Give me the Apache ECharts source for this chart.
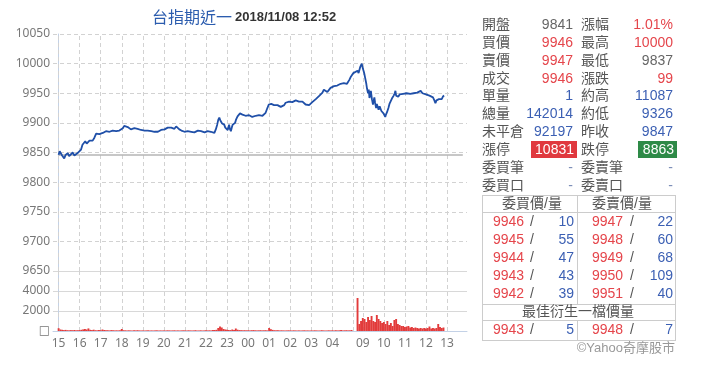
<!DOCTYPE html>
<html><head><meta charset="utf-8">
<script src="https://cdn.jsdelivr.net/npm/echarts@6/dist/echarts.min.js"></script>
<style>html,body{margin:0;padding:0;background:#fff}#c{width:720px;height:372px}</style>
</head><body><div id="c"></div>
<script>
// ---------- DATA ----------
const titleName = '台指期近一';
const titleTime = '2018/11/08 12:52';
const prevClose = 9847;

// Night session (15:00-05:00): minutes after 15:00 and price
const nightMinutes = [
  0,3,6,10,16,20,26,30,35,40,
  45,50,54,59,64,68,72,76,80,83,
  88,92,97,102,107,112,116,121,126,130,
  135,140,145,150,154,159,164,168,173,178,
  183,187,192,197,202,206,211,216,220,225,
  230,235,240,245,249,254,259,264,268,273,
  278,283,287,292,297,302,306,311,316,321,
  326,330,335,340,344,350,355,359,364,368,
  373,378,382,387,392,397,402,406,411,416,
  420,425,430,434,439,444,448,452,455,458,
  461,463,466,469,472,475,477,480,482,484,
  486,488,491,494,496,499,503,506,510,514,
  517,520,524,529,533,538,543,548,552,557,
  562,567,571,576,581,585,590,595,599,603,
  606,609,614,619,624,628,633,638,643,647,
  652,657,661,666,671,676,680,685,690,695,
  699,704,709,714,718,723,728,733,737,742,
  747,752,756,761,766,770,775,780,785,790,
  794,799,804,808,813,818,822,826,829,833,
  836,840];
const nightPrices = [
  9846,9852,9849,9845,9840,9846,9849,9844,9846,9850,
  9845,9848,9849,9847,9855,9863,9866,9869,9865,9867,
  9870,9872,9870,9875,9882,9879,9881,9879,9883,9881,
  9886,9883,9885,9883,9887,9885,9886,9884,9887,9889,
  9891,9895,9892,9893,9890,9889,9892,9891,9888,9890,
  9888,9888,9886,9887,9885,9887,9884,9886,9887,9885,
  9883,9885,9886,9888,9886,9889,9890,9892,9891,9892,
  9893,9890,9894,9891,9889,9887,9886,9885,9887,9886,
  9887,9885,9886,9884,9886,9887,9885,9886,9885,9884,
  9884,9886,9887,9885,9883,9883,9889,9897,9905,9909,
  9904,9905,9899,9896,9897,9892,9894,9890,9888,9893,
  9897,9890,9886,9893,9897,9896,9900,9906,9911,9913,
  9916,9917,9914,9914,9912,9911,9913,9913,9910,9909,
  9912,9911,9913,9914,9912,9915,9917,9925,9931,9934,
  9932,9932,9930,9928,9930,9929,9927,9926,9930,9934,
  9935,9936,9934,9935,9937,9938,9936,9936,9939,9936,
  9934,9931,9928,9930,9932,9935,9938,9940,9942,9945,
  9948,9951,9956,9954,9952,9955,9959,9960,9962,9963,
  9963,9965,9966,9967,9967,9966,9966,9969,9973,9978,
  9981,9984];

// Day session (08:45-13:45): minutes after 08:45 and price
const dayMinutes = [
  0,3,8,12,15,19,22,25,27,30,
  32,34,36,38,41,44,46,48,50,53,
  55,57,60,63,65,68,70,74,77,79,
  81,84,88,91,94,98,100,103,106,108,
  110,113,116,120,125,130,135,140,145,150,
  155,160,165,170,175,180,185,190,195,200,
  205,210,215,219,222,225,228,232,236,240,
  244,247];
const dayPrices = [
  9988,9984,9995,10000,9992,9984,9975,9966,9958,9950,
  9956,9942,9948,9954,9940,9931,9938,9943,9934,9925,
  9932,9929,9922,9928,9925,9920,9922,9916,9913,9910,
  9914,9918,9925,9932,9936,9941,9938,9946,9950,9954,
  9946,9948,9944,9948,9946,9949,9946,9950,9948,9949,
  9947,9950,9948,9951,9949,9954,9950,9949,9948,9947,
  9946,9945,9943,9938,9933,9938,9936,9940,9942,9940,
  9945,9946];

// Volume per 5-minute step
const volumeStep = 5;
const nightVolumes = [
  280,150,120,90,110,80,70,90,80,100,70,80,
  90,120,160,200,150,260,120,90,130,80,70,90,
  80,150,100,70,80,60,90,70,60,70,60,80,
  200,80,70,60,70,60,50,70,60,80,60,50,
  60,50,60,70,50,60,50,60,70,50,60,50,
  60,50,70,60,50,60,70,50,60,50,60,70,
  60,50,70,60,50,60,80,50,60,70,50,60,
  80,60,70,60,90,100,120,300,450,350,200,150,
  120,100,90,150,110,250,130,90,80,70,80,70,
  70,60,80,90,70,60,70,80,60,70,80,60,
  300,180,110,80,70,80,60,70,60,50,60,70,
  60,50,70,60,50,60,50,60,70,50,60,50,
  60,50,70,60,50,60,80,60,50,60,70,60,
  70,60,80,60,70,90,60,70,80,60,70,100];
const dayVolumes = [
  3300,700,1000,1300,1200,900,1400,1100,1500,1000,
  900,1600,1200,1000,800,900,700,1000,600,800,
  500,1100,1200,700,600,500,500,400,450,500,
  350,400,300,350,300,250,300,250,300,250,
  300,450,250,300,250,300,700,400,300,350];

// Axis hour ticks
const tickTimes = ['15:00','16:00','17:00','18:00','19:00','20:00','21:00','22:00','23:00','00:00','01:00','02:00','03:00','04:00','05:00','09:00','10:00','11:00','12:00','13:00'];
const tickLabels = ['15','16','17','18','19','20','21','22','23','00','01','02','03','04','','09','10','11','12','13'];
const volumeAxisLabels = ['□','2000','4000'];

// Quote panel
const quoteLabelsL = ['開盤','買價','賣價','成交','單量','總量','未平倉','漲停','委買筆','委買口'];
const quoteValuesL = ['9841','9946','9947','9946','1','142014','92197','10831','-','-'];
const quoteLabelsR = ['漲幅','最高','最低','漲跌','約高','約低','昨收','跌停','委賣筆','委賣口'];
const quoteValuesR = ['1.01%','10000','9837','99','11087','9326','9847','8863','-','-'];

// Order book
const bookHeaders = ['委買價/量','委賣價/量'];
const bidPrices = [9946,9945,9944,9943,9942];
const bidVolumes = [10,55,47,43,39];
const askPrices = [9947,9948,9949,9950,9951];
const askVolumes = [22,60,68,109,40];
const bestTitle = '最佳衍生一檔價量';
const bestBid = [9943,5];
const bestAsk = [9948,7];
const sourceText = '©Yahoo奇摩股市';

// ---------- BUILD ----------
const DAY_OFFSET = 852; // axis position of 08:45 on the compressed session axis
function axisMinute(hhmm) {
  const p = hhmm.split(':').map(Number);
  const t = p[0] * 60 + p[1];
  if (t >= 900) return t - 900;
  if (t <= 300) return t + 540;
  return DAY_OFFSET + (t - 525);
}
const priceData = nightMinutes.map((m, i) => [m, nightPrices[i]])
  .concat(dayMinutes.map((m, i) => [DAY_OFFSET + m, dayPrices[i]]));
const volumeData = nightVolumes.map((v, i) => [i * volumeStep, v])
  .concat(dayVolumes.map((v, i) => [DAY_OFFSET + i * volumeStep, v]));
const tickValues = tickTimes.map(axisMinute);
const labelValues = tickValues.filter((v, i) => tickLabels[i] !== '');
const labelOf = {};
tickValues.forEach((v, i) => { labelOf[v] = tickLabels[i]; });

const FONT = '"Liberation Sans", "Noto Sans CJK TC", sans-serif';
const AXFONT = '"Noto Sans", "DejaVu Sans", sans-serif';
const RED = '#e5454b', BLUE = '#3b5fb3', GRAY = '#666', LAB = '#555', DASH = '#7d8fb8';
const AXISC = '#c3d1e6', GRIDC = '#d2d2d2';

function txt(x, y, text, fill, align, size, weight, family) {
  return { type: 'text', x: x, y: y, silent: true, z: 10,
    style: { text: String(text), fill: fill, textAlign: align || 'left', textVerticalAlign: 'middle',
      font: (weight || 'normal') + ' ' + (size || 14) + 'px ' + (family || FONT) } };
}
function hline(x1, x2, y) { return { type: 'line', silent: true, shape: { x1: x1, y1: y, x2: x2, y2: y }, style: { stroke: '#cccccc', lineWidth: 1 } }; }
function vline(x, y1, y2) { return { type: 'line', silent: true, shape: { x1: x, y1: y1, x2: x, y2: y2 }, style: { stroke: '#cccccc', lineWidth: 1 } }; }

const colorL = [GRAY, RED, RED, RED, BLUE, BLUE, BLUE, '#fff', DASH, DASH];
const colorR = [RED, RED, GRAY, RED, BLUE, BLUE, BLUE, '#fff', DASH, DASH];
const g = [];
g.push(txt(152, 17, titleName, '#2b5cae', 'left', 16, 'normal', '"Noto Sans CJK TC", sans-serif'));
g.push(txt(235, 17, titleTime, '#333', 'left', 13, 'bold', '"Liberation Sans", Arial, sans-serif'));
// limit-price boxes
g.push({ type: 'rect', silent: true, shape: { x: 531, y: 141, width: 46, height: 17 }, style: { fill: '#e0393f' } });
g.push({ type: 'rect', silent: true, shape: { x: 638, y: 141, width: 39, height: 17 }, style: { fill: '#2e8a47' } });
for (let i = 0; i < quoteLabelsL.length; i++) {
  const y = 25 + i * 17.9;
  g.push(txt(482, y, quoteLabelsL[i], LAB, 'left'));
  g.push(txt(i === 7 ? 574 : 573, y, quoteValuesL[i], colorL[i], 'right'));
  g.push(txt(581, y, quoteLabelsR[i], LAB, 'left'));
  g.push(txt(i === 7 ? 674 : 673, y, quoteValuesR[i], colorR[i], 'right'));
}
// order book table
g.push(hline(482, 675, 195.5), hline(482, 675, 212.5), hline(482, 675, 304.5), hline(482, 675, 320.5), hline(482, 675, 340.5));
g.push(vline(482.5, 195, 341), vline(675.5, 195, 341), vline(577.5, 195, 305), vline(577.5, 320, 341));
g.push(txt(532, 204, bookHeaders[0], LAB, 'center'));
g.push(txt(622, 204, bookHeaders[1], LAB, 'center'));
for (let i = 0; i < bidPrices.length; i++) {
  const y = 222 + i * 18;
  g.push(txt(493, y, bidPrices[i], RED, 'left'));
  g.push(txt(532, y, '/', LAB, 'center'));
  g.push(txt(574, y, bidVolumes[i], BLUE, 'right'));
  g.push(txt(592, y, askPrices[i], RED, 'left'));
  g.push(txt(632, y, '/', LAB, 'center'));
  g.push(txt(673, y, askVolumes[i], BLUE, 'right'));
}
g.push(txt(578, 312, bestTitle, LAB, 'center'));
g.push(txt(493, 330, bestBid[0], RED, 'left'));
g.push(txt(532, 330, '/', LAB, 'center'));
g.push(txt(574, 330, bestBid[1], BLUE, 'right'));
g.push(txt(592, 330, bestAsk[0], RED, 'left'));
g.push(txt(632, 330, '/', LAB, 'center'));
g.push(txt(673, 330, bestAsk[1], BLUE, 'right'));
g.push(txt(675, 348, sourceText, '#999', 'right', 13));

// vertical hour grid lines drawn as dashed mark lines at the tick times
const vGrid = tickValues.map(v => ({ xAxis: v }));
const vGridStyle = { color: GRIDC, type: [4, 3], width: 1 };

const xCommon = {
  type: 'value', min: -16, max: 1164,
  axisTick: { show: false },
  splitLine: { show: false }
};

const chart = echarts.init(document.getElementById('c'), null, { renderer: 'canvas' });
chart.setOption({
  animation: false,
  backgroundColor: '#fff',
  grid: [
    { left: 53, top: 34, width: 414, height: 237 },
    { left: 53, top: 271, width: 414, height: 60 }
  ],
  xAxis: [
    Object.assign({}, xCommon, { gridIndex: 0, axisLine: { show: false }, axisLabel: { show: false } }),
    Object.assign({}, xCommon, { gridIndex: 1,
      axisLine: { show: true, lineStyle: { color: AXISC, width: 1 } },
      axisLabel: { show: true, customValues: labelValues, margin: 7, color: '#777', fontSize: 12, fontFamily: AXFONT,
        formatter: v => labelOf[v] } })
  ],
  yAxis: [
    { gridIndex: 0, type: 'value', min: 9650, max: 10050, interval: 50,
      axisLine: { show: true, lineStyle: { color: AXISC } }, axisTick: { show: false },
      axisLabel: { color: '#777', fontSize: 12, margin: 3, fontFamily: AXFONT, formatter: v => String(v) },
      splitLine: { show: true, lineStyle: { color: GRIDC, type: [4, 3], width: 1 } } },
    { gridIndex: 1, type: 'value', min: 0, max: 6000, interval: 2000,
      axisLine: { show: true, lineStyle: { color: AXISC } }, axisTick: { show: false },
      axisLabel: { color: '#777', fontSize: 12, margin: 3, fontFamily: AXFONT, showMaxLabel: false,
        formatter: v => volumeAxisLabels[v / 2000] || '' },
      splitLine: { show: true, lineStyle: { color: '#d8d8d8', type: 'solid', width: 1 } } }
  ],
  series: [
    { type: 'line', xAxisIndex: 0, yAxisIndex: 0, data: priceData, showSymbol: false, symbol: 'none',
      lineStyle: { color: '#1f4fa8', width: 1.8 }, z: 5,
      markLine: { silent: true, symbol: 'none', z: 1, label: { show: false },
        lineStyle: vGridStyle,
        data: vGrid.concat([[{ coord: [axisMinute('15:00'), prevClose], lineStyle: { color: '#b4b4b4', type: 'solid', width: 1.5 } },
                             { coord: [axisMinute('13:45'), prevClose] }]]) } },
    { type: 'bar', xAxisIndex: 1, yAxisIndex: 1, data: volumeData, barWidth: 1.9, z: 5,
      itemStyle: { color: '#e23b3b' },
      markLine: { silent: true, symbol: 'none', z: 1, label: { show: false }, lineStyle: vGridStyle, data: vGrid } }
  ],
  graphic: g
});
</script></body></html>
